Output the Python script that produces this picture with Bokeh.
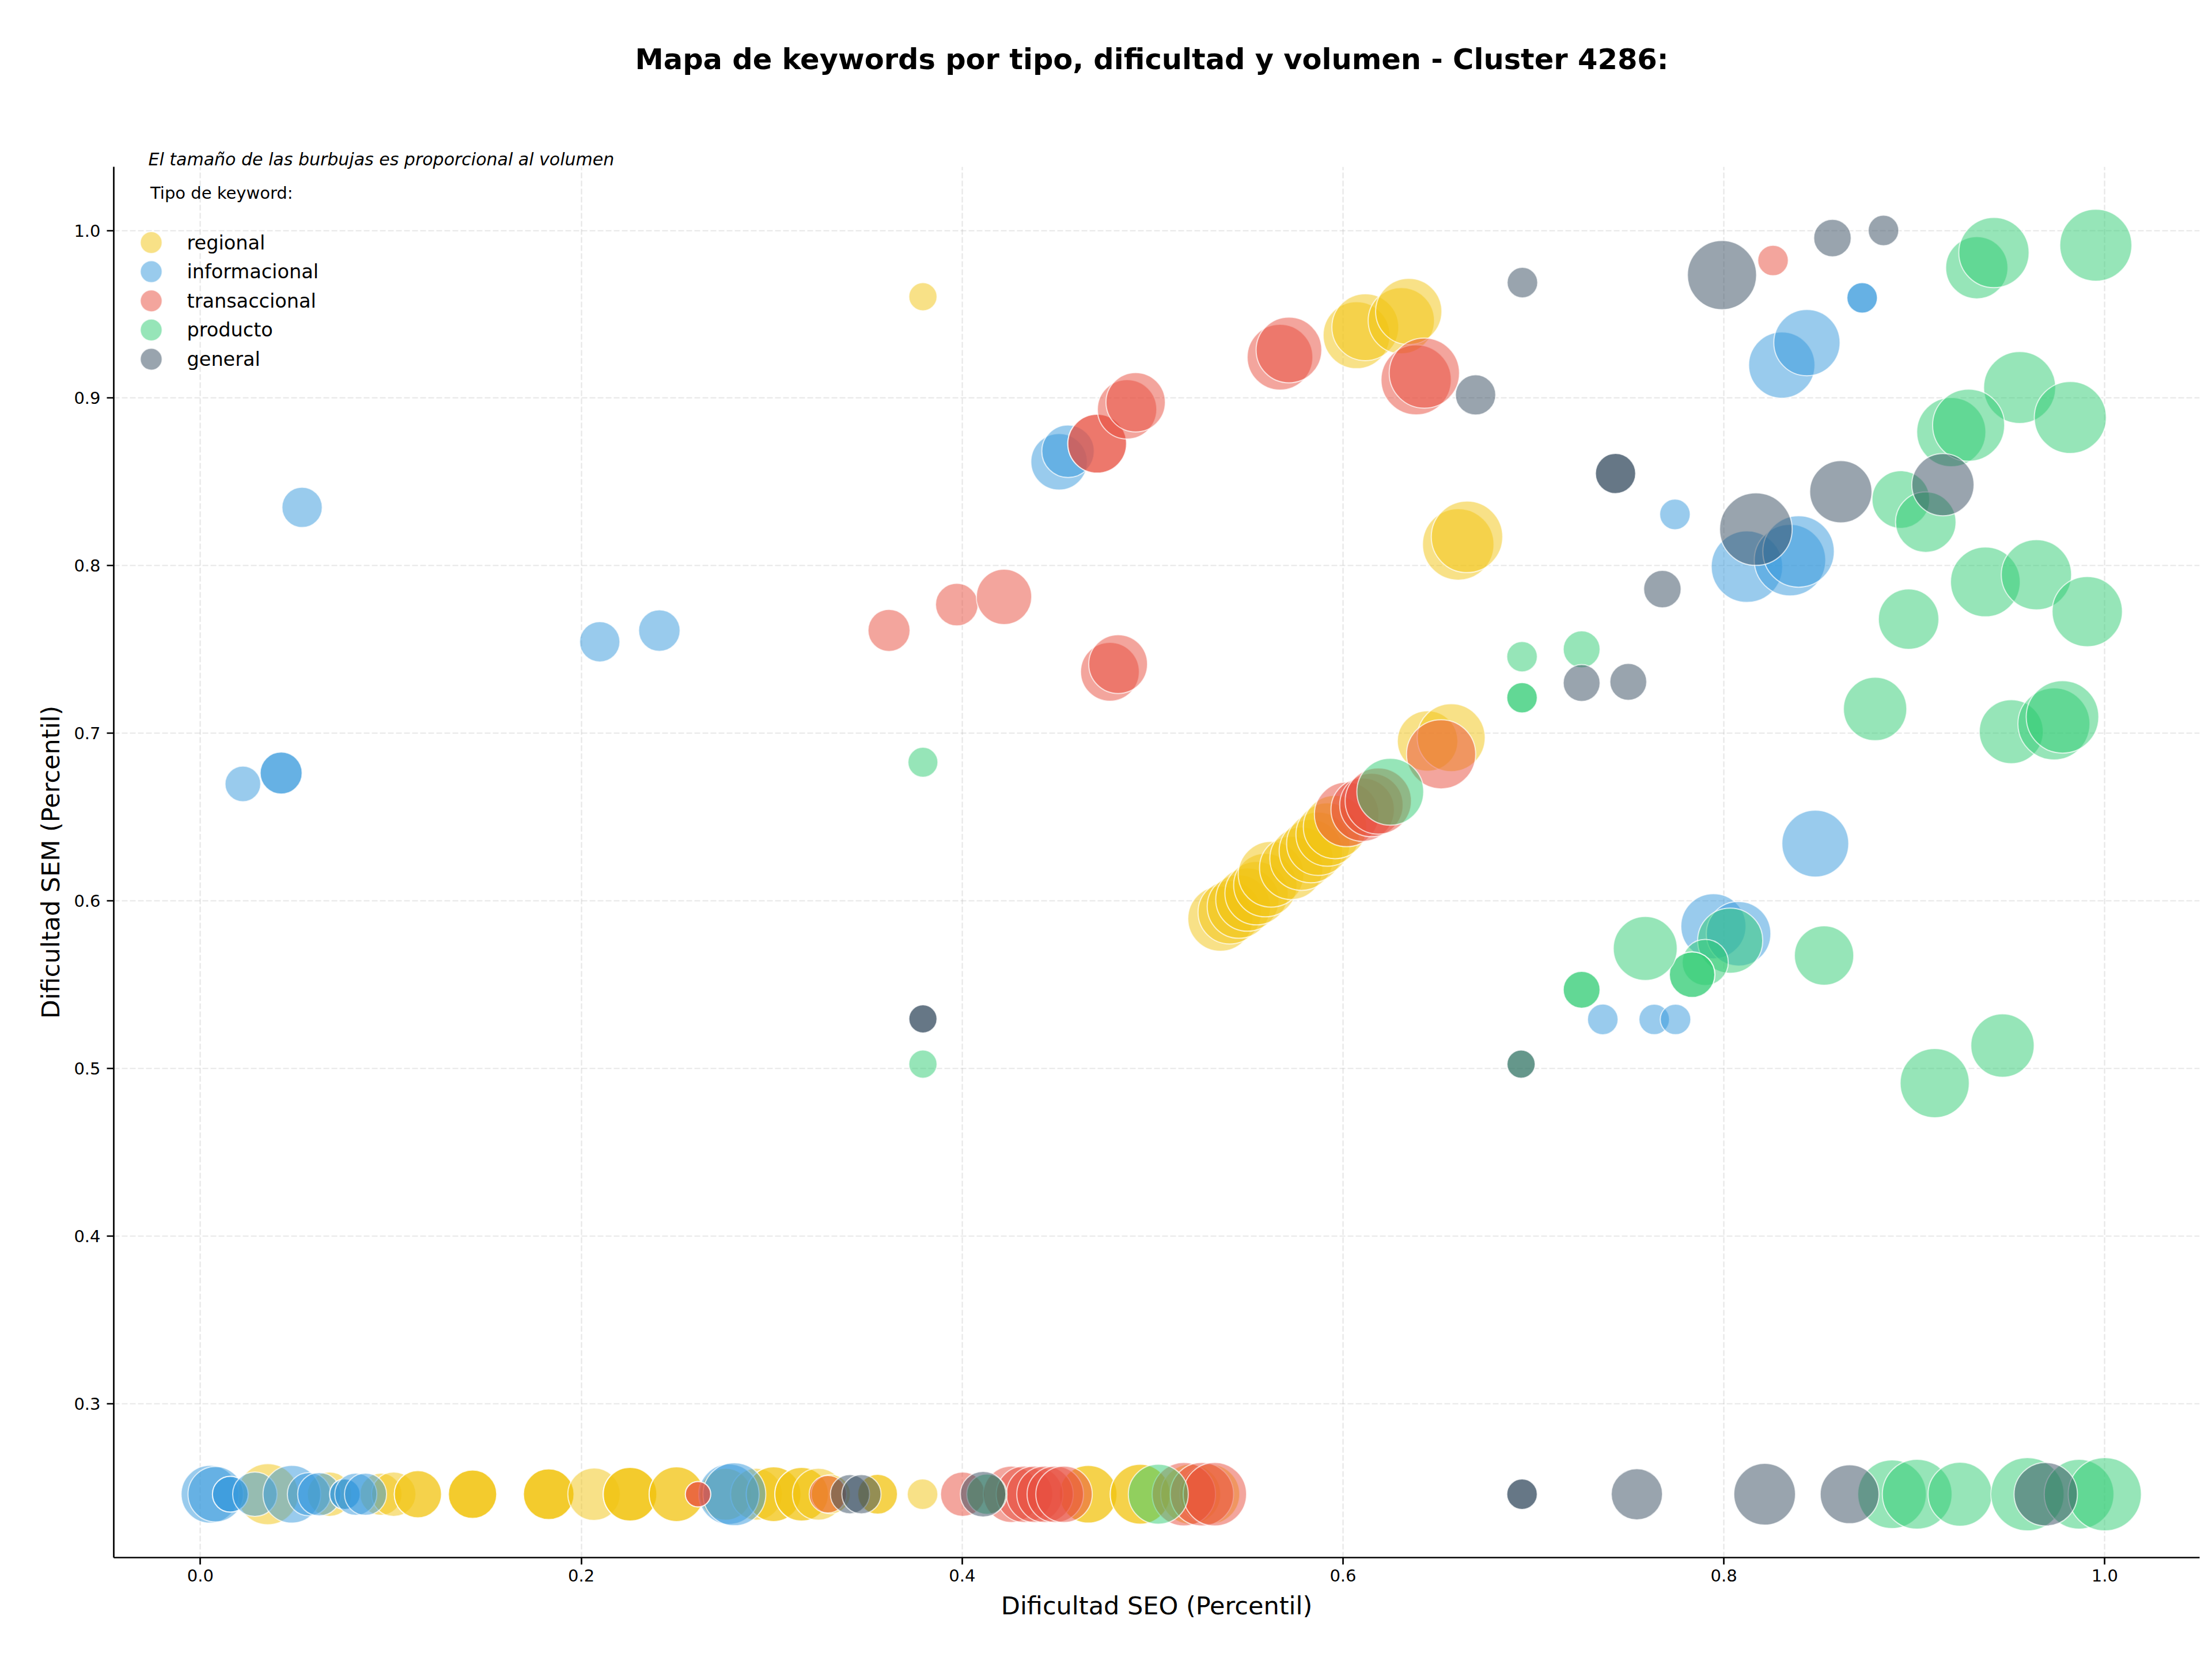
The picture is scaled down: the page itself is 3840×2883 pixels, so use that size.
import math

from bokeh.embed import file_html
from bokeh.models import (ColumnDataSource, FixedTicker, Label,
                          PrintfTickFormatter, Range1d, Title)
from bokeh.plotting import figure
from bokeh.resources import INLINE

# ---------------------------------------------------------------------------
# Keyword data: SEO difficulty percentile, SEM difficulty percentile, volume
# ---------------------------------------------------------------------------
BASE = 0.246  # keywords without SEM data sit on the lowest percentile

regional_seo = [0.3794, 0.6071, 0.6117, 0.6306, 0.6345, 0.6605, 0.6651,
                0.5356, 0.5405, 0.5453, 0.5498, 0.5546, 0.5592, 0.5622,
                0.5728, 0.5782, 0.5831, 0.5870, 0.5919, 0.5958, 0.6444, 0.6568,
                0.0354, 0.0678, 0.0948, 0.1015, 0.1142, 0.1142, 0.1429, 0.1429,
                0.1429, 0.1829, 0.1829, 0.1829, 0.2067, 0.2256, 0.2256, 0.2256,
                0.2500, 0.2500, 0.2758, 0.2920, 0.3010, 0.3010, 0.3157, 0.3157,
                0.3245, 0.3310, 0.3556, 0.3556, 0.3792, 0.4662, 0.4662, 0.4935,
                0.4935, 0.5200, 0.5300]
regional_sem = [0.9605, 0.9375, 0.9423, 0.9462, 0.9517, 0.8127, 0.8172,
                0.5894, 0.5932, 0.5966, 0.6008, 0.6046, 0.6094, 0.6159,
                0.6197, 0.6252, 0.6297, 0.6341, 0.6396, 0.6441, 0.6954, 0.6974,
                BASE, BASE, BASE, BASE, BASE, BASE, BASE, BASE,
                BASE, BASE, BASE, BASE, BASE, BASE, BASE, BASE,
                BASE, BASE, BASE, BASE, BASE, BASE, BASE, BASE,
                BASE, BASE, BASE, BASE, BASE, BASE, BASE, BASE,
                BASE, BASE, BASE]
regional_vol = [150, 841, 841, 827, 827, 961, 961,
                798, 756, 756, 756, 756, 756, 812,
                756, 756, 756, 756, 756, 756, 689, 870,
                702, 371, 333, 371, 420, 420, 441, 441,
                441, 484, 484, 484, 518, 541, 541, 541,
                564, 564, 506, 506, 564, 564, 541, 541,
                506, 289, 298, 298, 176, 625, 625, 676,
                676, 676, 676]

informacional_seo = [0.0534, 0.2097, 0.2410, 0.0223, 0.0424, 0.0424, 0.4509,
                     0.4556, 0.8726, 0.8726, 0.8304, 0.8436, 0.7743, 0.8121,
                     0.8347, 0.8392, 0.8480, 0.7945, 0.8077, 0.7364, 0.7634,
                     0.7746,
                     0.0050, 0.0080, 0.0157, 0.0157, 0.0286, 0.0480, 0.0570,
                     0.0624, 0.0759, 0.0759, 0.0816, 0.0867, 0.2775, 0.2804]
informacional_sem = [0.8348, 0.7546, 0.7613, 0.6698, 0.6763, 0.6763, 0.8620,
                     0.8683, 0.9598, 0.9598, 0.9197, 0.9331, 0.8306, 0.7994,
                     0.8033, 0.8085, 0.6342, 0.5849, 0.5804, 0.5293, 0.5293,
                     0.5293,
                     BASE, BASE, BASE, BASE, BASE, BASE, BASE,
                     BASE, BASE, BASE, BASE, BASE, BASE, BASE]
informacional_vol = [306, 306, 324, 240, 333, 333, 600,
                     518, 176, 176, 827, 827, 176, 961,
                     961, 961, 841, 798, 784, 176, 176,
                     176,
                     625, 576, 240, 240, 371, 625, 352,
                     352, 176, 176, 333, 333, 689, 743]

transaccional_seo = [0.3616, 0.3972, 0.4220, 0.4776, 0.4819, 0.4709, 0.4709,
                     0.4866, 0.4911, 0.5669, 0.5716, 0.6384, 0.6427, 0.8258,
                     0.6019, 0.6103, 0.6149, 0.6185, 0.6515,
                     0.2613, 0.2613, 0.3295, 0.4003, 0.4259, 0.4327, 0.4381,
                     0.4435, 0.4489, 0.4535, 0.5164, 0.5259, 0.5327]
transaccional_sem = [0.7614, 0.7768, 0.7814, 0.7367, 0.7413, 0.8728, 0.8728,
                     0.8933, 0.8975, 0.9244, 0.9287, 0.9109, 0.9149, 0.9821,
                     0.6516, 0.6544, 0.6572, 0.6596, 0.6875,
                     BASE, BASE, BASE, BASE, BASE, BASE, BASE,
                     BASE, BASE, BASE, BASE, BASE, BASE]
transaccional_vol = [333, 342, 576, 650, 650, 650, 650,
                     663, 663, 812, 812, 930, 930, 176,
                     784, 756, 756, 827, 900,
                     121, 121, 264, 371, 600, 600, 600,
                     600, 600, 600, 756, 756, 756]

producto_seo = [0.3794, 0.3794, 0.6940, 0.6940, 0.6940, 0.7253, 0.6935,
                0.6248, 0.9328, 0.9418, 0.9953, 0.9553, 0.9819, 0.9194,
                0.9285, 0.8929, 0.9060, 0.8970, 0.9373, 0.9641, 0.9908,
                0.8794, 0.9509, 0.9733, 0.9778, 0.8033, 0.7902, 0.7833,
                0.7833, 0.7587, 0.7253, 0.7253, 0.8526, 0.9463, 0.9107,
                0.4130, 0.5030, 0.8883, 0.9015, 0.9240, 0.9594, 0.9865, 1.0000]
producto_sem = [0.6827, 0.5026, 0.7457, 0.7212, 0.7212, 0.7501, 0.5026,
                0.6651, 0.9778, 0.9868, 0.9912, 0.9063, 0.8884, 0.8797,
                0.8838, 0.8395, 0.8260, 0.7681, 0.7903, 0.7946, 0.7726,
                0.7145, 0.7010, 0.7056, 0.7098, 0.5763, 0.5633, 0.5560,
                0.5560, 0.5716, 0.5470, 0.5470, 0.5674, 0.5137, 0.4913,
                BASE, BASE, BASE, BASE, BASE, BASE, BASE, BASE]
producto_vol = [169, 150, 176, 176, 176, 256, 150,
                841, 729, 930, 977, 977, 977, 900,
                977, 625, 689, 689, 915, 930, 930,
                756, 770, 977, 992, 798, 400, 390,
                390, 770, 256, 256, 663, 756, 900,
                306, 676, 885, 915, 770, 1008, 915, 1008]

general_seo = [0.6942, 0.7990, 0.8570, 0.8838, 0.6696, 0.7431, 0.7431,
               0.8614, 0.9150, 0.8168, 0.7677, 0.7253, 0.7498, 0.3794,
               0.3794, 0.6935,
               0.3411, 0.3471, 0.4110, 0.6940, 0.6940, 0.7543, 0.8214,
               0.8660, 0.9690]
general_sem = [0.9689, 0.9734, 0.9955, 1.0000, 0.9019, 0.8550, 0.8550,
               0.8441, 0.8483, 0.8218, 0.7860, 0.7300, 0.7307, 0.5296,
               0.5296, 0.5026,
               BASE, BASE, BASE, BASE, BASE, BASE, BASE,
               BASE, BASE]
general_vol = [176, 900, 264, 176, 306, 306, 306,
               729, 729, 992, 264, 256, 256, 150,
               150, 150,
               289, 289, 390, 176, 176, 495, 716,
               650, 756]

tipos = ["regional", "informacional", "transaccional", "producto", "general"]
colores = ["#f1c40f", "#3498db", "#e74c3c", "#2ecc71", "#34495e"]
series = {
    "regional": (regional_seo, regional_sem, regional_vol),
    "informacional": (informacional_seo, informacional_sem, informacional_vol),
    "transaccional": (transaccional_seo, transaccional_sem, transaccional_vol),
    "producto": (producto_seo, producto_sem, producto_vol),
    "general": (general_seo, general_sem, general_vol),
}

x_ticks = [0.0, 0.2, 0.4, 0.6, 0.8, 1.0]
y_ticks = [0.3, 0.4, 0.5, 0.6, 0.7, 0.8, 0.9, 1.0]

titulo = "Mapa de keywords por tipo, dificultad y volumen - Cluster 4286:"
nota = "El tamaño de las burbujas es proporcional al volumen"
leyenda_titulo = "Tipo de keyword:"

SIZE_SCALE = 4.0  # bubble diameter (px) = SIZE_SCALE * sqrt(volume)
FONT = "DejaVu Sans"

# ---------------------------------------------------------------------------
# Figure geometry (px)
# ---------------------------------------------------------------------------
W, H = 3840, 2883
LEFT, RIGHT, TOP, BOTTOM = 197, 22, 289, 180
FRAME_W = W - LEFT - RIGHT
FRAME_H = H - TOP - BOTTOM
X0, X1 = -0.0455, 1.0498
Y0, Y1 = 0.2082, 1.038

p = figure(width=W, height=H, output_backend="svg", toolbar_location=None,
           x_range=Range1d(X0, X1), y_range=Range1d(Y0, Y1),
           min_border_left=LEFT, min_border_right=RIGHT,
           min_border_top=TOP, min_border_bottom=BOTTOM)
p.outline_line_color = None
p.background_fill_color = "white"
p.border_fill_color = "white"

# Title (outermost panel); the trailing line break leaves a blank line under
# it, which lifts the title well clear of the plot area.
p.title.text = titulo + "\n"
p.title.text_font = FONT
p.title.text_font_size = "49.5px"
p.title.text_font_style = "bold"
p.title.text_color = "black"
p.title.align = "left"
p.title.offset = 905
p.title.standoff = 142

# Italic note just above the plot area
p.add_layout(Title(text=nota, text_font=FONT, text_font_size="30px",
                   text_font_style="italic", text_color="black",
                   align="left", offset=60, standoff=-8), "above")

for ax, ticks, label in ((p.xaxis, x_ticks, "Dificultad SEO (Percentil)"),
                         (p.yaxis, y_ticks, "Dificultad SEM (Percentil)")):
    ax.ticker = FixedTicker(ticks=ticks)
    ax.formatter = PrintfTickFormatter(format="%.1f")
    ax.axis_label = label
    ax.axis_label_text_font = FONT
    ax.axis_label_text_font_size = "43px"
    ax.axis_label_text_font_style = "normal"
    ax.axis_label_text_color = "black"
    ax.major_label_text_font = FONT
    ax.major_label_text_font_size = "29px"
    ax.major_label_text_color = "black"
    ax.axis_line_width = 2.7
    ax.axis_line_color = "black"
    ax.major_tick_line_width = 2.7
    ax.major_tick_line_color = "black"
    ax.major_tick_out = 12
    ax.major_tick_in = 0
    ax.minor_tick_line_color = None

p.xaxis.major_label_standoff = 8
p.xaxis.axis_label_standoff = 14
p.yaxis.major_label_standoff = 11
p.yaxis.axis_label_standoff = 12

p.xgrid.ticker = FixedTicker(ticks=x_ticks)
p.ygrid.ticker = FixedTicker(ticks=y_ticks)
for g in (p.xgrid, p.ygrid):
    g.grid_line_color = "#b0b0b0"
    g.grid_line_alpha = 0.3
    g.grid_line_width = 2.2
    g.grid_line_dash = "10 4"

# ---------------------------------------------------------------------------
# Bubbles, one renderer per keyword type
# ---------------------------------------------------------------------------
for tipo, color in zip(tipos, colores):
    seo, sem, vol = series[tipo]
    src = ColumnDataSource(dict(
        seo=seo, sem=sem, vol=vol,
        size=[SIZE_SCALE * math.sqrt(v) for v in vol],
    ))
    p.scatter(x="seo", y="sem", size="size", source=src, marker="circle",
              fill_color=color, fill_alpha=0.5,
              line_color="white", line_alpha=0.7, line_width=2)

# ---------------------------------------------------------------------------
# Legend in the upper-left corner of the plot area
# ---------------------------------------------------------------------------
def to_data(px, py):
    """Canvas pixel position -> data coordinates of the plot area."""
    x = X0 + (px - LEFT) / FRAME_W * (X1 - X0)
    y = Y1 - (py - TOP) / FRAME_H * (Y1 - Y0)
    return x, y

LEG_X, LEG_Y0, LEG_STEP, LEG_SIZE, LEG_TEXT_X = 262, 420.5, 50.6, 38, 324
leg_pos = [to_data(LEG_X, LEG_Y0 + i * LEG_STEP) for i in range(len(tipos))]
p.scatter(x=[q[0] for q in leg_pos], y=[q[1] for q in leg_pos],
          size=LEG_SIZE, marker="circle", fill_color=colores, fill_alpha=0.5,
          line_color="white", line_alpha=0.7, line_width=2)
for i, tipo in enumerate(tipos):
    p.add_layout(Label(x=LEG_TEXT_X - LEFT,
                       y=H - BOTTOM - (LEG_Y0 + i * LEG_STEP),
                       x_units="screen", y_units="screen", text=tipo,
                       text_font=FONT, text_font_size="33.5px",
                       text_color="black", text_align="left",
                       text_baseline="middle"))

p.add_layout(Label(x=63.5, y=H - BOTTOM - 334, x_units="screen",
                   y_units="screen", text=leyenda_titulo, text_font=FONT,
                   text_font_size="29px", text_color="black",
                   text_align="left", text_baseline="alphabetic"))

open("out.html", "w").write(file_html(p, INLINE))
